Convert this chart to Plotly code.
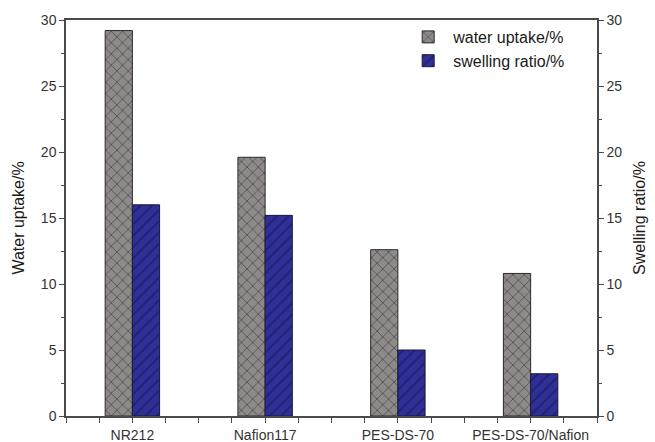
import plotly.graph_objects as go

categories = ["NR212", "Nafion117", "PES-DS-70", "PES-DS-70/Nafion"]
water_uptake = [29.2, 19.6, 12.6, 10.8]
swelling_ratio = [16.0, 15.2, 5.0, 3.2]
y_ticks = [0, 5, 10, 15, 20, 25, 30]

xs = list(range(len(categories)))
bw = 0.205

fig = go.Figure()
fig.add_trace(go.Bar(
    x=xs, y=water_uptake, name="water uptake/%", width=bw, offset=-bw,
    marker=dict(color="#8c8888", line=dict(color="#2a2a2a", width=1),
                pattern=dict(shape="x", fgcolor="#1e1e1e", bgcolor="#8e8a8a", size=8, solidity=0.22)),
    yaxis="y"))
fig.add_trace(go.Bar(
    x=xs, y=swelling_ratio, name="swelling ratio/%", width=bw, offset=0,
    marker=dict(color="#2b2b8f", line=dict(color="#1a1a3a", width=1),
                pattern=dict(shape="/", fgcolor="#14144e", bgcolor="#2f2f97", size=8, solidity=0.25)),
    yaxis="y2"))

axis_col = "#4a4a4a"
font_col = "#333333"
fig.update_layout(
    width=655, height=442,
    margin=dict(l=66, r=58, t=20, b=26, autoexpand=False),
    paper_bgcolor="white", plot_bgcolor="white",
    barmode="overlay",
    font=dict(family="Liberation Sans, Arial, sans-serif", size=14, color=font_col),
    showlegend=True,
    legend=dict(x=0.635, y=1.0, xanchor="left", yanchor="top", bgcolor="rgba(0,0,0,0)",
                font=dict(size=16, color="#1a1a1a"), tracegroupgap=0, itemwidth=40),
    xaxis=dict(range=[-0.5, 3.5], tickmode="array", tickvals=xs, ticktext=categories,
               showgrid=False, zeroline=False, showline=True, linecolor=axis_col, linewidth=1.5,
               mirror=True, ticks="outside", ticklen=5, tickcolor=axis_col, automargin=False,
               minor=dict(dtick=0.25, tick0=-0.5, ticks="outside", ticklen=5, tickcolor=axis_col),
               tickfont=dict(size=14, color=font_col)),
    yaxis=dict(range=[0, 30], tickvals=y_ticks, showgrid=False, zeroline=False, automargin=False,
               showline=True, linecolor=axis_col, linewidth=1.5, ticks="outside", ticklen=5,
               tickcolor=axis_col, minor=dict(dtick=2.5, ticks="outside", ticklen=3, tickcolor=axis_col),
               title=dict(text="Water uptake/%", font=dict(size=16, color="#1a1a1a"), standoff=12),
               tickfont=dict(size=14, color=font_col)),
    yaxis2=dict(range=[0, 30], tickvals=y_ticks, overlaying="y", side="right", showgrid=False,
                zeroline=False, showline=True, linecolor=axis_col, linewidth=1.5, ticks="outside",
                ticklen=5, tickcolor=axis_col, automargin=False,
                minor=dict(dtick=2.5, ticks="outside", ticklen=3, tickcolor=axis_col),
                title=dict(text="Swelling ratio/%", font=dict(size=16, color="#1a1a1a"), standoff=12),
                tickfont=dict(size=14, color=font_col)),
)

fig.write_html("out.html", config={"displayModeBar": False},
               post_script="document.body.style.margin='0';document.documentElement.style.margin='0';")
